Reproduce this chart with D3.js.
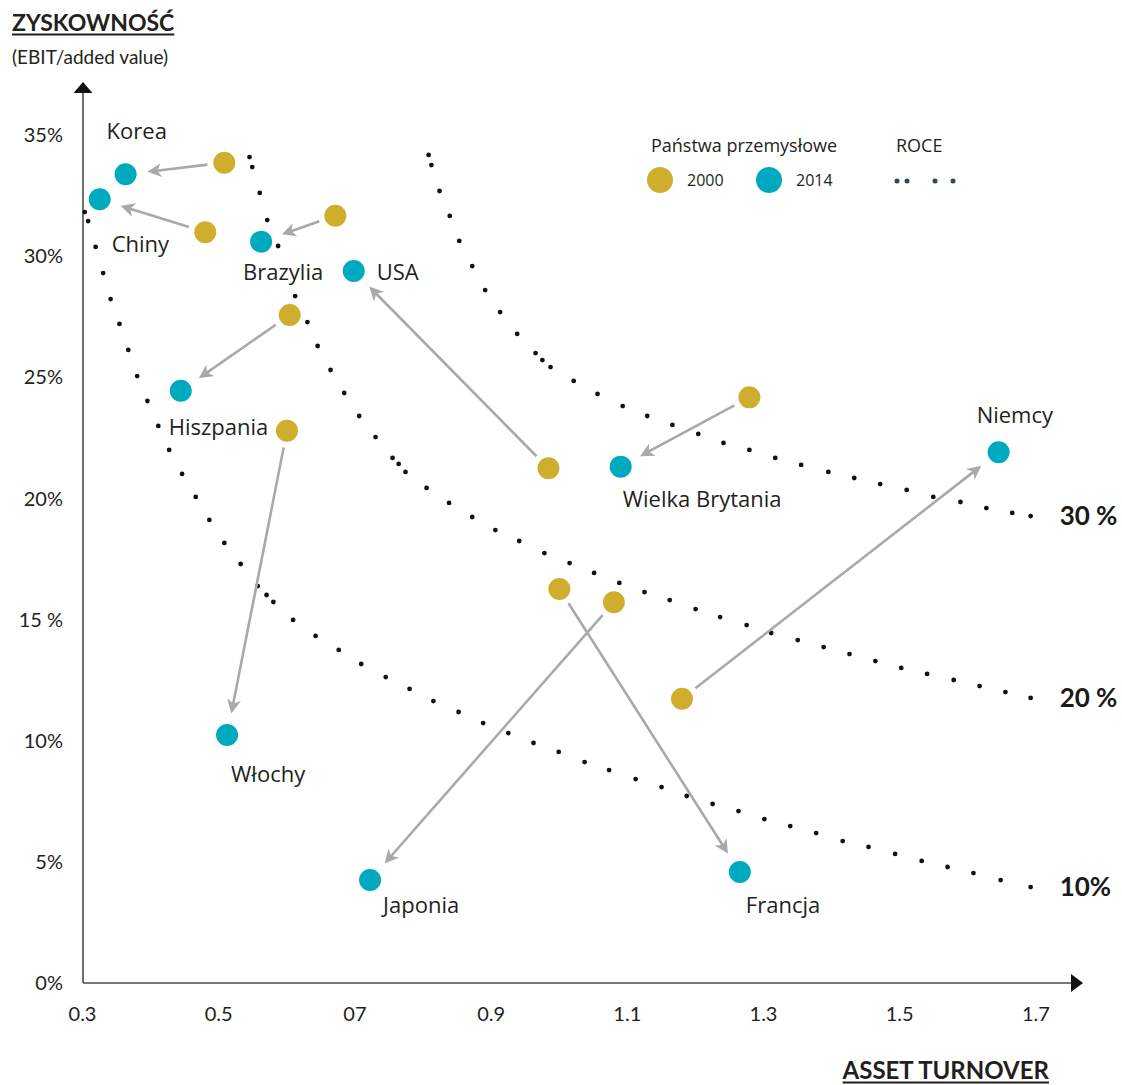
<!DOCTYPE html>
<html>
<head>
<meta charset="utf-8">
<script src="https://cdn.jsdelivr.net/npm/d3@7"></script>
<style>
  body { margin: 0; background: #fff; }
  svg { display: block; }
</style>
</head>
<body>
<svg id="chart" width="1122" height="1085"></svg>
<script>
// Countries and their position in 2000 and 2014:
// asset turnover (x) and profitability EBIT / added value in % (y)
const countries    = ["Korea", "Chiny", "Brazylia", "USA", "Hiszpania", "Włochy", "Wielka Brytania", "Niemcy", "Japonia", "Francja"];
const turnover2000 = [0.509, 0.481, 0.672, 0.985, 0.605, 0.601, 1.280, 1.181, 1.081, 1.001];
const profit2000   = [33.87, 31.00, 31.68, 21.25, 27.58, 22.80, 24.18, 11.74, 15.72, 16.27];
const turnover2014 = [0.364, 0.326, 0.563, 0.699, 0.445, 0.513, 1.091, 1.646, 0.723, 1.266];
const profit2014   = [33.39, 32.36, 30.61, 29.40, 24.45, 10.24, 21.32, 21.91, 4.25, 4.58];

// ROCE iso-lines, drawn as dotted lines (one dot per point)
const roceLabels = ["30 %", "20 %", "10%"];
const roce30Turnover = [0.809, 0.813, 0.825, 0.840, 0.854, 0.873, 0.892, 0.914, 0.939, 0.966, 0.976, 0.988, 1.022, 1.057, 1.094, 1.130, 1.167, 1.205, 1.242, 1.280, 1.318, 1.356, 1.396, 1.434, 1.472, 1.511, 1.550, 1.590, 1.628, 1.666, 1.693];
const roce30Profit   = [34.19, 33.77, 32.70, 31.67, 30.64, 29.60, 28.61, 27.70, 26.80, 26.01, 25.72, 25.43, 24.86, 24.32, 23.82, 23.41, 23.04, 22.67, 22.30, 22.01, 21.68, 21.39, 21.10, 20.85, 20.60, 20.36, 20.07, 19.86, 19.61, 19.41, 19.28];
const roce20Turnover = [0.546, 0.550, 0.561, 0.572, 0.588, 0.613, 0.631, 0.646, 0.665, 0.685, 0.707, 0.731, 0.756, 0.765, 0.775, 0.806, 0.839, 0.873, 0.907, 0.942, 0.979, 1.016, 1.052, 1.089, 1.126, 1.163, 1.201, 1.237, 1.276, 1.312, 1.351, 1.389, 1.427, 1.465, 1.503, 1.541, 1.580, 1.618, 1.656, 1.693];
const roce20Profit   = [34.10, 33.69, 32.62, 31.50, 30.43, 28.36, 27.29, 26.30, 25.31, 24.36, 23.41, 22.54, 21.68, 21.43, 21.10, 20.44, 19.82, 19.24, 18.70, 18.25, 17.75, 17.34, 16.93, 16.52, 16.14, 15.81, 15.44, 15.11, 14.78, 14.45, 14.16, 13.87, 13.58, 13.29, 13.01, 12.76, 12.51, 12.26, 12.01, 11.77];
const roce10Turnover = [0.304, 0.309, 0.320, 0.331, 0.342, 0.355, 0.368, 0.381, 0.396, 0.412, 0.428, 0.447, 0.467, 0.487, 0.509, 0.533, 0.558, 0.571, 0.581, 0.610, 0.643, 0.677, 0.710, 0.746, 0.781, 0.816, 0.853, 0.889, 0.926, 0.963, 1.000, 1.038, 1.074, 1.113, 1.151, 1.188, 1.226, 1.264, 1.302, 1.340, 1.378, 1.417, 1.455, 1.494, 1.533, 1.571, 1.609, 1.649, 1.693];
const roce10Profit   = [31.83, 31.46, 30.39, 29.31, 28.24, 27.21, 26.14, 25.06, 24.03, 23.00, 22.01, 21.02, 20.07, 19.12, 18.17, 17.30, 16.39, 16.02, 15.73, 14.99, 14.33, 13.75, 13.17, 12.63, 12.14, 11.64, 11.19, 10.73, 10.32, 9.91, 9.54, 9.12, 8.79, 8.42, 8.09, 7.72, 7.39, 7.10, 6.77, 6.48, 6.19, 5.86, 5.62, 5.33, 5.04, 4.79, 4.54, 4.25, 3.96];

// Axis ticks
const xTickValues = [0.3, 0.5, 0.7, 0.9, 1.1, 1.3, 1.5, 1.7];
const xTickLabels = ["0.3", "0.5", "07", "0.9", "1.1", "1.3", "1.5", "1.7"];
const yTickValues = [0, 5, 10, 15, 20, 25, 30, 35];
const yTickLabels = ["0%", "5%", "10%", "15 %", "20%", "25%", "30%", "35%"];

// Legend
const legendTitle = "Państwa przemysłowe";
const legendYears = ["2000", "2014"];
const legendRoce = "ROCE";

// ---- styles ----
const GOLD = "#CFAE2E";
const TEAL = "#00AABE";
const ARROW = "#A7A9AC";
const INK = "#231F20";
const LABEL_FONT = "'Open Sans', sans-serif";
const AXIS_FONT = "Lato, sans-serif";

// Offsets of each country name relative to its 2014 marker
const labelOffset = {
  "Korea": [-19, -35], "Chiny": [12, 53], "Brazylia": [-18, 38], "USA": [23, 9],
  "Hiszpania": [-12, 44], "Włochy": [4, 47], "Wielka Brytania": [2, 40],
  "Niemcy": [-22, -29], "Japonia": [13, 33], "Francja": [6, 41]
};

const svg = d3.select("#chart");
const x = d3.scaleLinear().domain([0.3, 1.7]).range([82, 1035.4]);
const y = d3.scaleLinear().domain([0, 35]).range([983, 135.3]);

const axX0 = 83, axY0 = 983;

// ---- axes ----
const yAxis = svg.append("g")
  .attr("transform", `translate(${axX0},0)`)
  .call(d3.axisLeft(y).tickValues(yTickValues).tickFormat((d, i) => yTickLabels[i]).tickSize(0).tickPadding(20));
yAxis.select(".domain").remove();
yAxis.selectAll("text").attr("font-family", AXIS_FONT).attr("font-size", 20).attr("fill", INK);

const xAxis = svg.append("g")
  .attr("transform", `translate(0,${axY0})`)
  .call(d3.axisBottom(x).tickValues(xTickValues).tickFormat((d, i) => xTickLabels[i]).tickSize(0).tickPadding(24));
xAxis.select(".domain").remove();
xAxis.selectAll("text").attr("font-family", AXIS_FONT).attr("font-size", 20).attr("fill", INK);

// axis lines with arrowheads
svg.append("line").attr("x1", axX0).attr("y1", axY0).attr("x2", axX0).attr("y2", 92)
  .attr("stroke", "#4d4d4d").attr("stroke-width", 1.6);
svg.append("path").attr("d", `M${axX0},82 L${axX0 - 9.5},93 L${axX0 + 9.5},93 Z`).attr("fill", "#111");
svg.append("line").attr("x1", axX0).attr("y1", axY0).attr("x2", 1072).attr("y2", axY0)
  .attr("stroke", "#4d4d4d").attr("stroke-width", 1.6);
svg.append("path").attr("d", `M1083,${axY0} L1071,${axY0 - 9} L1071,${axY0 + 9} Z`).attr("fill", "#111");

// ---- axis titles ----
function underlinedText(txt, tx, ty, size, anchor) {
  const t = svg.append("text").attr("x", tx).attr("y", ty)
    .attr("font-family", AXIS_FONT).attr("font-weight", 700).attr("font-size", size)
    .attr("fill", INK).attr("text-anchor", anchor).text(txt);
  const w = t.node().getComputedTextLength();
  const x0 = anchor === "end" ? tx - w : tx;
  svg.append("line").attr("x1", x0).attr("x2", x0 + w).attr("y1", ty + 3.5).attr("y2", ty + 3.5)
    .attr("stroke", INK).attr("stroke-width", 2);
}
underlinedText("ZYSKOWNOŚĆ", 12, 31, 23, "start");
svg.append("text").attr("x", 12).attr("y", 64)
  .attr("font-family", AXIS_FONT).attr("font-size", 19).attr("fill", INK)
  .text("(EBIT/added value)");
underlinedText("ASSET TURNOVER", 1049, 1079, 24, "end");

// ---- ROCE dotted lines ----
const roceSeries = [
  { label: roceLabels[0], t: roce30Turnover, p: roce30Profit },
  { label: roceLabels[1], t: roce20Turnover, p: roce20Profit },
  { label: roceLabels[2], t: roce10Turnover, p: roce10Profit }
];
const roceG = svg.append("g");
roceSeries.forEach(s => {
  roceG.append("g").selectAll("circle")
    .data(s.t.map((t, i) => [t, s.p[i]]))
    .join("circle")
    .attr("cx", d => x(d[0])).attr("cy", d => y(d[1])).attr("r", 2.4).attr("fill", "#111");
  const last = s.t.length - 1;
  svg.append("text")
    .attr("x", x(s.t[last]) + 29).attr("y", y(s.p[last]))
    .attr("dy", "0.35em")
    .attr("font-family", AXIS_FONT).attr("font-weight", 700).attr("font-size", 26)
    .attr("fill", "#1a1a1a").text(s.label);
});

// ---- arrows from 2000 to 2014 ----
const rows = countries.map((c, i) => ({
  name: c,
  x0: x(turnover2000[i]), y0: y(profit2000[i]),
  x1: x(turnover2014[i]), y1: y(profit2014[i])
}));
const arrowG = svg.append("g");
rows.forEach(r => {
  const dx = r.x1 - r.x0, dy = r.y1 - r.y0, len = Math.hypot(dx, dy);
  const ux = dx / len, uy = dy / len, nx = -uy, ny = ux;
  const sx = r.x0 + ux * 17, sy = r.y0 + uy * 17;
  const tx = r.x1 - ux * 22, ty = r.y1 - uy * 22;
  arrowG.append("line")
    .attr("x1", sx).attr("y1", sy).attr("x2", tx - ux * 9).attr("y2", ty - uy * 9)
    .attr("stroke", ARROW).attr("stroke-width", 2.6);
  const L = 14, W = 7, N = 10;
  arrowG.append("path")
    .attr("d", `M${tx},${ty} L${tx - ux * L + nx * W},${ty - uy * L + ny * W} L${tx - ux * N},${ty - uy * N} L${tx - ux * L - nx * W},${ty - uy * L - ny * W} Z`)
    .attr("fill", ARROW);
});

// ---- markers ----
const markG = svg.append("g");
markG.selectAll("circle.y2000").data(rows).join("circle").attr("class", "y2000")
  .attr("cx", d => d.x0).attr("cy", d => d.y0).attr("r", 12)
  .attr("fill", GOLD).attr("stroke", "#fff").attr("stroke-width", 2);
markG.selectAll("circle.y2014").data(rows).join("circle").attr("class", "y2014")
  .attr("cx", d => d.x1).attr("cy", d => d.y1).attr("r", 12)
  .attr("fill", TEAL).attr("stroke", "#fff").attr("stroke-width", 2);

// ---- country names ----
svg.append("g").selectAll("text").data(rows).join("text")
  .attr("x", d => d.x1 + labelOffset[d.name][0])
  .attr("y", d => d.y1 + labelOffset[d.name][1])
  .attr("font-family", LABEL_FONT).attr("font-size", 22).attr("fill", INK)
  .text(d => d.name);

// ---- legend ----
const lg = svg.append("g");
lg.append("text").attr("x", 651).attr("y", 152)
  .attr("font-family", LABEL_FONT).attr("font-size", 18).attr("fill", INK).text(legendTitle);
const yearCx = [660, 769];
legendYears.forEach((yr, i) => {
  lg.append("circle").attr("cx", yearCx[i]).attr("cy", 180).attr("r", 13)
    .attr("fill", i === 0 ? GOLD : TEAL);
  lg.append("text").attr("x", yearCx[i] + 27).attr("y", 180).attr("dy", "0.36em")
    .attr("font-family", LABEL_FONT).attr("font-size", 16).attr("fill", INK).text(yr);
});
lg.append("text").attr("x", 896).attr("y", 152)
  .attr("font-family", LABEL_FONT).attr("font-size", 18).attr("fill", INK).text(legendRoce);
[897, 907, 935, 953].forEach(cx => {
  lg.append("circle").attr("cx", cx).attr("cy", 181).attr("r", 2.5).attr("fill", "#2F4858");
});
</script>
</body>
</html>
